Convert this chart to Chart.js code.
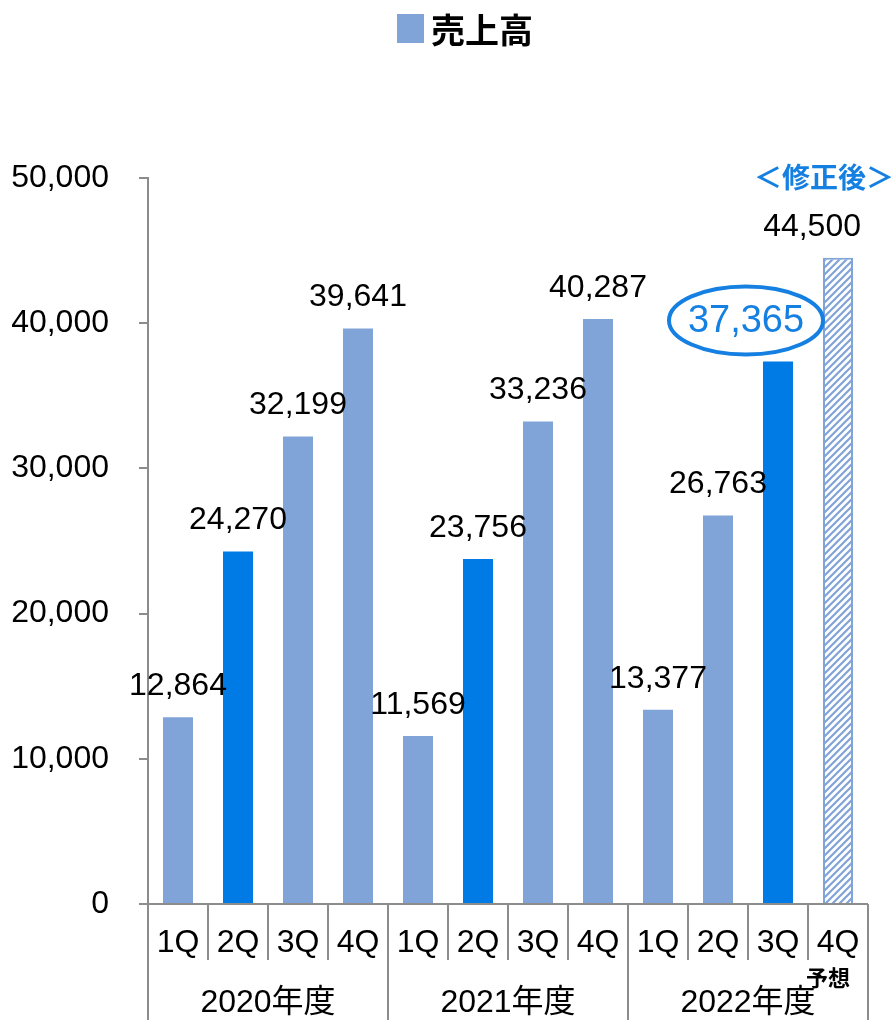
<!DOCTYPE html>
<html>
<head>
<meta charset="utf-8">
<script src="https://cdn.jsdelivr.net/npm/chart.js@4/dist/chart.umd.min.js"></script>
<style>
  body { margin: 0; background: #fff; }
  canvas { display: block; }
</style>
</head>
<body>
<canvas id="chart" width="895" height="1020"></canvas>
<script>
const ctx = document.getElementById("chart");

// quarterly sales, three fiscal years
const quarters = ["1Q", "2Q", "3Q", "4Q", "1Q", "2Q", "3Q", "4Q", "1Q", "2Q", "3Q", "4Q"];
const years = ["2020年度", "2021年度", "2022年度"];
const sales = [12864, 24270, 32199, 39641, 11569, 23756, 33236, 40287, 13377, 26763, 37365, 44500];
const darkBars = [1, 5, 10];   // 2Q of each year + latest actual
const revisedIndex = 10;       // circled value
const forecastIndex = 11;      // hatched forecast bar

const LIGHT = "#80A3D8";
const DARK = "#007BE6";
const ACCENT = "#1580E2";
const AXIS = "#8C8C8C";
const FONT = "Arial, 'Liberation Sans', 'Noto Sans CJK JP', sans-serif";
const CJK = "'Noto Sans CJK JP', Arial, sans-serif";

function hatchPattern() {
  const p = document.createElement("canvas");
  p.width = 7;
  p.height = 7;
  const c = p.getContext("2d");
  c.fillStyle = "#fff";
  c.fillRect(0, 0, 7, 7);
  c.strokeStyle = LIGHT;
  c.lineWidth = 2.2;
  c.beginPath();
  c.moveTo(-1, 8); c.lineTo(8, -1);
  c.moveTo(-4.5, 4.5); c.lineTo(4.5, -4.5);
  c.moveTo(2.5, 11.5); c.lineTo(11.5, 2.5);
  c.stroke();
  return ctx.getContext("2d").createPattern(p, "repeat");
}

const barColors = sales.map((v, i) => {
  if (i === forecastIndex) return hatchPattern();
  return darkBars.includes(i) ? DARK : LIGHT;
});

// legend, value labels, two-level category axis
const decorations = {
  id: "decorations",
  afterDatasetsDraw(chart) {
    const c = chart.ctx;
    const area = chart.chartArea;
    const meta = chart.getDatasetMeta(0);
    c.save();

    // legend
    c.fillStyle = LIGHT;
    c.fillRect(397, 14, 27, 29);
    c.fillStyle = "#000";
    c.font = "bold 34px " + CJK;
    c.textAlign = "left";
    c.textBaseline = "middle";
    c.fillText("売上高", 431, 30);

    // value labels
    c.textAlign = "center";
    meta.data.forEach((bar, i) => {
      const text = sales[i].toLocaleString("en-US");
      if (i === revisedIndex) {
        const cx = bar.x - 32, cy = bar.y - 41;
        c.strokeStyle = ACCENT;
        c.lineWidth = 4;
        c.beginPath();
        c.ellipse(cx, cy, 77, 34, 0, 0, Math.PI * 2);
        c.stroke();
        c.fillStyle = ACCENT;
        c.font = "38px " + FONT;
        c.fillText(text, cx, cy + 1);
        return;
      }
      c.font = "32px " + FONT;
      c.fillStyle = "#000";
      const w = c.measureText(text).width;
      const x = Math.min(bar.x, 861 - w / 2);
      c.fillText(text, x, bar.y - 31);
    });

    c.fillStyle = ACCENT;
    c.font = "bold 28px " + CJK;
    c.textAlign = "right";
    c.fillText("＜修正後＞", 894, 177);

    // category axis
    const catW = (area.right - area.left) / quarters.length;
    c.strokeStyle = AXIS;
    c.lineWidth = 2;
    c.beginPath();
    c.moveTo(area.left, area.bottom);
    c.lineTo(area.right, area.bottom);
    for (let i = 0; i <= quarters.length; i++) {
      const x = Math.round(area.left + i * catW);
      c.moveTo(x, area.bottom);
      c.lineTo(x, i % 4 === 0 ? chart.height : area.bottom + 56);
    }
    c.stroke();

    c.fillStyle = "#000";
    c.textAlign = "center";
    c.font = "32px " + FONT;
    quarters.forEach((q, i) => {
      c.fillText(q, area.left + (i + 0.5) * catW, area.bottom + 39);
    });
    years.forEach((y, i) => {
      c.fillText(y, area.left + (i * 4 + 2) * catW, area.bottom + 99);
    });

    c.font = "bold 22px " + CJK;
    c.fillText("予想", 828, 978);
    c.restore();
  }
};

new Chart(ctx, {
  type: "bar",
  data: {
    labels: quarters,
    datasets: [
      {
        label: "売上高",
        data: sales,
        backgroundColor: barColors,
        borderColor: sales.map((v, i) => (i === forecastIndex ? LIGHT : "rgba(0,0,0,0)")),
        borderWidth: sales.map((v, i) => (i === forecastIndex ? 2 : 0)),
        categoryPercentage: 1,
        barPercentage: 0.5,
      },
    ],
  },
  options: {
    responsive: false,
    devicePixelRatio: 1,
    animation: false,
    layout: { padding: { top: 178, bottom: 116, right: 27, left: 0 } },
    plugins: {
      legend: { display: false },
      tooltip: { enabled: false },
    },
    scales: {
      x: { display: false },
      y: {
        min: 0,
        max: 50000,
        afterFit: (scale) => { scale.width = 148; },
        ticks: {
          stepSize: 10000,
          padding: 30,
          color: "#000",
          font: { family: FONT, size: 32 },
          callback: (v) => v.toLocaleString("en-US"),
        },
        grid: {
          drawOnChartArea: false,
          drawTicks: true,
          tickLength: 9,
          color: AXIS,
          lineWidth: 2,
        },
        border: { display: true, color: AXIS, width: 2 },
      },
    },
  },
  plugins: [decorations],
});
</script>
</body>
</html>
